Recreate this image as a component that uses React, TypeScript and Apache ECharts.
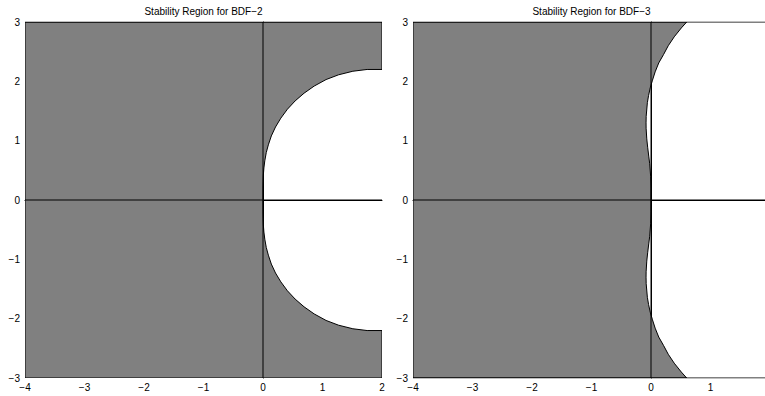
import React, { useEffect, useRef } from "react";
import * as echarts from "echarts";

const xTicks = [-4, -3, -2, -1, 0, 1, 2];
const yTicks = [-3, -2, -1, 0, 1, 2, 3];
const titles = ["Stability Region for BDF\u22122", "Stability Region for BDF\u22123"];

// Gray (stable) region of BDF-2: outer box edge then the boundary locus (clipped at x = 2)
const bdf2Region: number[][] = [
  [-4, -3], [-4, 3], [2, 3], [2, 2.2],
  [1.75, 2.2], [1.51, 2.17], [1.27, 2.11], [1.06, 2.03], [0.86, 1.92], [0.69, 1.8],
  [0.54, 1.67], [0.41, 1.53], [0.3, 1.38], [0.21, 1.23], [0.14, 1.08], [0.09, 0.93],
  [0.055, 0.8], [0.03, 0.66], [0.015, 0.54], [0.006, 0.42], [0.002, 0.31], [0, 0.2], [0, 0.1],
  [0, 0],
  [0, -0.1], [0, -0.2], [0.002, -0.31], [0.006, -0.42], [0.015, -0.54], [0.03, -0.66],
  [0.055, -0.8], [0.09, -0.93], [0.14, -1.08], [0.21, -1.23], [0.3, -1.38], [0.41, -1.53],
  [0.54, -1.67], [0.69, -1.8], [0.86, -1.92], [1.06, -2.03], [1.27, -2.11], [1.51, -2.17],
  [1.75, -2.2], [2, -2.2], [2, -3],
];

// Gray (stable) region of BDF-3: outer box edge then the boundary locus (clipped at y = ±3)
const bdf3Region: number[][] = [
  [-4, -3], [-4, 3], [0.6, 3],
  [0.51, 2.9], [0.39, 2.75], [0.29, 2.6], [0.21, 2.45], [0.13, 2.31], [0.07, 2.16],
  [0.025, 2.02], [-0.013, 1.89], [-0.041, 1.76], [-0.061, 1.64], [-0.081, 1.41],
  [-0.083, 1.3], [-0.082, 1.21], [-0.071, 1.03], [-0.055, 0.88], [-0.038, 0.74],
  [-0.023, 0.62], [-0.006, 0.4], [0, 0.2],
  [0, 0],
  [0, -0.2], [-0.006, -0.4], [-0.023, -0.62], [-0.038, -0.74], [-0.055, -0.88],
  [-0.071, -1.03], [-0.082, -1.21], [-0.083, -1.3], [-0.081, -1.41], [-0.061, -1.64],
  [-0.041, -1.76], [-0.013, -1.89], [0.025, -2.02], [0.07, -2.16], [0.13, -2.31],
  [0.21, -2.45], [0.29, -2.6], [0.39, -2.75], [0.51, -2.9], [0.6, -3],
];

const xAxisLine = [[-4, 0], [2, 0]];
const yAxisLine = [[0, -3], [0, 3]];
const topEdge = [[-4, 3], [2, 3]];
const bottomEdge = [[-4, -3], [2, -3]];

const FONT = "'Liberation Sans', Arial, Helvetica, sans-serif";
const fmt = (v: number) => String(v).replace("-", "\u2212");

function regionSeries(idx: number, pts: number[][]) {
  return {
    type: "custom",
    xAxisIndex: idx,
    yAxisIndex: idx,
    clip: true,
    data: [0],
    renderItem: (_params: any, api: any) => ({
      type: "polygon",
      shape: { points: pts.map((p) => api.coord(p)) },
      style: { fill: "#808080", stroke: "#000000", lineWidth: 1 },
    }),
    silent: true,
    z: 1,
  };
}

function lineSeries(idx: number, data: number[][]) {
  return {
    type: "line",
    xAxisIndex: idx,
    yAxisIndex: idx,
    data,
    symbol: "none",
    lineStyle: { color: "#000000", width: 1 },
    silent: true,
    z: 3,
  };
}

export default function App() {
  const ref = useRef<HTMLDivElement>(null);
  useEffect(() => {
    document.body.style.margin = "0";
    if (!ref.current) return;
    const chart = echarts.init(ref.current, undefined, { renderer: "svg" });
    const grids = [
      { left: 25, top: 22, width: 357, height: 356, containLabel: false, outerBoundsMode: "none" },
      { left: 413, top: 22, width: 357, height: 356, containLabel: false, outerBoundsMode: "none" },
    ];
    const xAxis = [0, 1].map((i) => ({
      type: "value",
      gridIndex: i,
      min: xTicks[0],
      max: xTicks[xTicks.length - 1],
      interval: 1,
      splitLine: { show: false },
      axisTick: { show: false },
      axisLine: { show: true, lineStyle: { color: "#000", width: 1 } },
      axisLabel: {
        color: "#000",
        fontSize: 10,
        fontFamily: FONT,
        margin: 4,
        formatter: fmt,
        showMinLabel: true,
        showMaxLabel: i === 0,
        hideOverlap: false,
      },
    }));
    const yAxis = [0, 1].map((i) => ({
      type: "value",
      gridIndex: i,
      min: yTicks[0],
      max: yTicks[yTicks.length - 1],
      interval: 1,
      splitLine: { show: false },
      axisTick: { show: false },
      axisLine: { show: true, lineStyle: { color: "#000", width: 1 } },
      axisLabel: { color: "#000", fontSize: 10, fontFamily: FONT, margin: 5, formatter: fmt },
    }));
    chart.setOption({
      animation: false,
      grid: grids,
      xAxis,
      yAxis,
      graphic: titles.map((t, i) => ({
        type: "text",
        x: grids[i].left + grids[i].width / 2,
        y: 11,
        style: { text: t, textAlign: "center", textVerticalAlign: "middle", fontSize: 10, fontFamily: FONT, fill: "#000" },
      })),
      series: [
        regionSeries(0, bdf2Region),
        regionSeries(1, bdf3Region),
        lineSeries(0, xAxisLine),
        lineSeries(0, yAxisLine),
        lineSeries(1, xAxisLine),
        lineSeries(1, yAxisLine),
        lineSeries(1, topEdge),
        lineSeries(1, bottomEdge),
        lineSeries(0, topEdge),
      ],
    });
    return () => chart.dispose();
  }, []);
  return <div ref={ref} style={{ width: 765, height: 396 }} />;
}
